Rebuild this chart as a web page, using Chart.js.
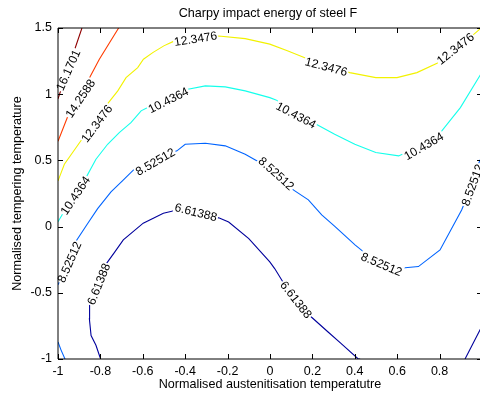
<!DOCTYPE html>
<html>
<head>
<meta charset="utf-8">
<script src="https://cdn.jsdelivr.net/npm/chart.js@4.4.0/dist/chart.umd.min.js"></script>
<style>
  html, body { margin: 0; padding: 0; background: #fff; overflow: hidden; }
  #wrap { width: 480px; height: 394px; overflow: hidden; }
  canvas { display: block; }
</style>
</head>
<body>
<div id="wrap"><canvas id="chart" width="490" height="394" style="width:490px;height:394px"></canvas></div>
<script>
// contour levels and their jet colours
const levels = [6.61388, 8.52512, 10.4364, 12.3476, 14.2588, 16.1701];
const levelColours = ['#00009c', '#0064ff', '#14ffeb', '#f2f200', '#ff3c00', '#900000'];

const titleText = 'Charpy impact energy of steel F';

// axis ticks
const xTicks = [-1, -0.8, -0.6, -0.4, -0.2, 0, 0.2, 0.4, 0.6, 0.8, 1];
const xTickLabels = ['-1', '-0.8', '-0.6', '-0.4', '-0.2', '0', '0.2', '0.4', '0.6', '0.8', ''];
const yTicks = [-1, -0.5, 0, 0.5, 1, 1.5];
const yTickLabels = ['-1', '-0.5', '0', '0.5', '1', '1.5'];

// contour 6.61388 (main arc + bottom right corner)
const c6x = [-0.799, -0.821, -0.844, -0.852, -0.851, -0.811, -0.770, -0.731, -0.692, -0.598, -0.503, -0.448, -0.344, -0.242, -0.195, -0.100, -0.001, 0.022, 0.061, 0.127, 0.195, 0.274, 0.336, 0.415, 0.425];
const c6y = [-1.0, -0.896, -0.823, -0.697, -0.594, -0.433, -0.276, -0.189, -0.100, 0.026, 0.101, 0.121, 0.103, 0.066, 0.035, -0.091, -0.267, -0.317, -0.418, -0.554, -0.683, -0.796, -0.884, -0.998, -1.0];
const c6bx = [0.920, 0.991, 1.0];
const c6by = [-1.0, -0.780, -0.750];

// contour 8.52512 (main + bottom left corner)
const c8x = [-1.0, -0.948, -0.912, -0.860, -0.813, -0.750, -0.695, -0.640, -0.542, -0.439, -0.400, -0.305, -0.211, -0.117, -0.046, 0.033, 0.110, 0.181, 0.244, 0.307, 0.401, 0.440, 0.528, 0.613, 0.700, 0.802, 0.904, 0.943, 0.981, 1.0];
const c8y = [-0.440, -0.267, -0.103, 0.023, 0.136, 0.262, 0.347, 0.434, 0.504, 0.572, 0.622, 0.630, 0.610, 0.547, 0.483, 0.398, 0.277, 0.202, 0.088, 0.000, -0.138, -0.189, -0.267, -0.314, -0.302, -0.176, 0.126, 0.277, 0.466, 0.534];
const c8bx = [-1.0, -0.986, -0.967];
const c8by = [-0.871, -0.931, -1.0];

// contour 10.4364
const c10x = [-1.0, -0.981, -0.925, -0.868, -0.821, -0.766, -0.711, -0.656, -0.608, -0.577, -0.481, -0.387, -0.305, -0.211, -0.117, -0.001, 0.028, 0.123, 0.218, 0.305, 0.400, 0.499, 0.607, 0.708, 0.804, 0.898, 0.989, 1.0];
const c10y = [0.036, 0.088, 0.232, 0.370, 0.509, 0.622, 0.710, 0.785, 0.874, 0.899, 0.980, 1.038, 1.063, 1.055, 1.025, 0.974, 0.957, 0.866, 0.773, 0.698, 0.622, 0.559, 0.534, 0.610, 0.710, 0.899, 1.138, 1.168];

// contour 12.3476
const c12x = [-1.0, -0.970, -0.887, -0.830, -0.774, -0.718, -0.679, -0.624, -0.597, -0.553, -0.501, -0.458, -0.354, -0.242, -0.117, -0.001, 0.085, 0.164, 0.269, 0.376, 0.499, 0.599, 0.693, 0.788, 0.873, 0.953, 0.991];
const c12y = [0.345, 0.471, 0.660, 0.791, 0.912, 1.025, 1.125, 1.201, 1.264, 1.314, 1.365, 1.397, 1.433, 1.440, 1.420, 1.378, 1.327, 1.276, 1.221, 1.163, 1.125, 1.125, 1.163, 1.234, 1.350, 1.441, 1.493];

// contour 14.2588
const c14x = [-1.0, -0.9495, -0.906, -0.855, -0.805, -0.714];
const c14y = [0.644, 0.851, 0.980, 1.113, 1.264, 1.5];

// contour 16.1701
const c16x = [-1.0, -0.943, -0.887];
const c16y = [0.965, 1.236, 1.5];

// inline contour labels: level index, position, angle (deg)
const labelLevel = [5, 4, 3, 3, 3, 3, 2, 2, 2, 2, 1, 1, 1, 1, 1, 0, 0, 0];
const labelX = [-0.953, -0.896, -0.818, -0.351, 0.266, 0.874, -0.920, -0.480, 0.124, 0.725, -0.948, -0.542, 0.031, 0.527, 0.953, -0.810, -0.349, 0.124];
const labelY = [1.184, 0.969, 0.780, 1.421, 1.210, 1.346, 0.236, 0.957, 0.844, 0.610, -0.267, 0.492, 0.403, -0.282, 0.315, -0.433, 0.111, -0.550];
const labelAngle = [-66, -56, -53, -9, 15, -38, -56, -27, 28, -30, -66, -30, 42, 23, -70, -68, 14, 52];

const FONT = "'Liberation Sans', Arial, sans-serif";

const lines = [
  [0, c6x, c6y], [0, c6bx, c6by],
  [1, c8x, c8y], [1, c8bx, c8by],
  [2, c10x, c10y],
  [3, c12x, c12y],
  [4, c14x, c14y],
  [5, c16x, c16y]
];

const datasets = lines.map(function (l) {
  return {
    data: l[1].map(function (x, i) { return {x: x, y: l[2][i]}; }),
    showLine: true,
    borderColor: levelColours[l[0]],
    borderWidth: 1.1,
    pointRadius: 0,
    tension: 0,
    fill: false
  };
});

const contourLabels = {
  id: 'contourLabels',
  afterDatasetsDraw(chart) {
    const ctx = chart.ctx;
    const xs = chart.scales.x, ys = chart.scales.y;
    ctx.save();
    ctx.font = '12px ' + FONT;
    ctx.textAlign = 'center';
    ctx.textBaseline = 'middle';
    labelLevel.forEach(function (lv, i) {
      const txt = String(levels[lv]);
      const px = xs.getPixelForValue(labelX[i]);
      const py = ys.getPixelForValue(labelY[i]);
      const w = ctx.measureText(txt).width;
      ctx.save();
      ctx.translate(px, py);
      ctx.rotate(labelAngle[i] * Math.PI / 180);
      ctx.fillStyle = '#fff';
      ctx.fillRect(-w / 2 - 1, -6, w + 2, 12);
      ctx.fillStyle = '#000';
      ctx.fillText(txt, 0, 1);
      ctx.restore();
    });
    ctx.restore();
  }
};

// matlab style box with ticks pointing inwards, title centred over the axes
const frame = {
  id: 'frame',
  afterDraw(chart) {
    const ctx = chart.ctx;
    const a = chart.chartArea;
    const xs = chart.scales.x, ys = chart.scales.y;
    const tl = 5;
    ctx.save();
    ctx.strokeStyle = '#000';
    ctx.lineWidth = 1;
    ctx.beginPath();
    ctx.moveTo(a.left, a.top); ctx.lineTo(a.right, a.top);
    ctx.lineTo(a.right, a.bottom); ctx.lineTo(a.left, a.bottom);
    ctx.closePath();
    xTicks.forEach(function (v) {
      const p = Math.round(xs.getPixelForValue(v)) + 0.5;
      ctx.moveTo(p, a.bottom); ctx.lineTo(p, a.bottom - tl);
      ctx.moveTo(p, a.top); ctx.lineTo(p, a.top + tl);
    });
    yTicks.forEach(function (v) {
      const p = Math.round(ys.getPixelForValue(v)) + 0.5;
      ctx.moveTo(a.left, p); ctx.lineTo(a.left + tl, p);
      ctx.moveTo(a.right, p); ctx.lineTo(a.right - tl, p);
    });
    ctx.stroke();
    ctx.fillStyle = '#000';
    ctx.font = '12.6px ' + FONT;
    ctx.textAlign = 'center';
    ctx.textBaseline = 'middle';
    ctx.fillText(titleText, (a.left + a.right) / 2 - 2, 14);
    ctx.restore();
  }
};

new Chart(document.getElementById('chart'), {
  type: 'scatter',
  data: {datasets: datasets},
  options: {
    responsive: false,
    animation: false,
    layout: {padding: {top: 28, right: 8, bottom: 0, left: 0}},
    plugins: {
      legend: {display: false},
      tooltip: {enabled: false},
      title: {display: false}
    },
    scales: {
      x: {
        type: 'linear', min: -1, max: 1,
        grid: {display: false, drawTicks: false},
        border: {display: false},
        afterBuildTicks: function (s) { s.ticks = xTicks.map(function (v) { return {value: v}; }); },
        afterFit: function (s) { s.height = 35; },
        ticks: {
          color: '#000', padding: 5, maxRotation: 0, autoSkip: false,
          font: {family: FONT, size: 12.5},
          callback: function (v, i) { return xTickLabels[i]; }
        },
        title: {
          display: true, text: 'Normalised austenitisation temperatutre', color: '#000',
          font: {family: FONT, size: 12.6}, padding: {top: 0, bottom: 2}
        }
      },
      y: {
        type: 'linear', min: -1, max: 1.5,
        grid: {display: false, drawTicks: false},
        border: {display: false},
        afterBuildTicks: function (s) { s.ticks = yTicks.map(function (v) { return {value: v}; }); },
        afterFit: function (s) { s.width = 58; },
        ticks: {
          color: '#000', padding: 6, autoSkip: false,
          font: {family: FONT, size: 12.5},
          callback: function (v, i) { return yTickLabels[i]; }
        },
        title: {
          display: true, text: 'Normalised tempering temperature', color: '#000',
          font: {family: FONT, size: 12.6}, padding: {top: 10, bottom: 0}
        }
      }
    }
  },
  plugins: [contourLabels, frame]
});
</script>
</body>
</html>
